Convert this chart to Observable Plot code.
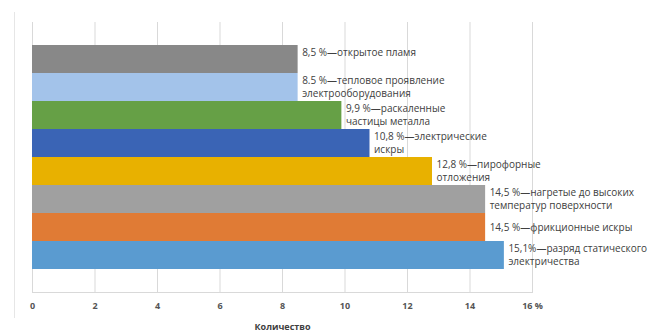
<!DOCTYPE html>
<html>
<head>
<meta charset="utf-8">
<script src="https://cdn.jsdelivr.net/npm/d3@7"></script>
<script src="https://cdn.jsdelivr.net/npm/@observablehq/plot@0.6"></script>
<style>
  html, body { margin: 0; padding: 0; background: #fff; }
  #wrap { position: relative; width: 657px; height: 336px; }
  #edge { position: absolute; left: 14px; top: 12px; width: 0; height: 306px; border-left: 1px solid #e6e6e6; }
</style>
</head>
<body>
<div id="wrap"><div id="edge"></div></div>
<script>
// Источники зажигания, доля случаев, %
const sources = [
  "открытое пламя",
  "тепловое проявление\nэлектрооборудования",
  "раскаленные\nчастицы металла",
  "электрические\nискры",
  "пирофорные\nотложения",
  "нагретые до высоких\nтемператур поверхности",
  "фрикционные искры",
  "разряд статического\nэлектричества"
];
const shares = [8.5, 8.5, 9.9, 10.8, 12.8, 14.5, 14.5, 15.1];
const decimalMarks = [",", ".", ",", ",", ",", ",", ",", ","];
const percentGaps = [" ", " ", " ", " ", " ", " ", " ", ""];
const barColors = ["#888888", "#a3c3ea", "#66a046", "#3a64b5", "#e8b100", "#a0a0a0", "#e07b35", "#5a9bd0"];
const xTicks = [0, 2, 4, 6, 8, 10, 12, 14, 16];
const axisTitle = "Количество";

const rows = sources.map((s, i) => ({
  source: s,
  share: shares[i],
  color: barColors[i],
  label: String(shares[i]).replace(".", decimalMarks[i]) + percentGaps[i] + "%—" + s
    + (s.includes("\n") || i === 6 ? "" : "\n")
}));

const tickText = d => d === 16 ? "16 %" : String(d);

const chart = Plot.plot({
  width: 657,
  height: 336,
  marginLeft: 32,
  marginRight: 125,
  marginTop: 22,
  marginBottom: 44,
  style: { fontFamily: "'Open Sans', Lato, sans-serif", background: "transparent" },
  x: { domain: [0, 16], ticks: xTicks, tickFormat: tickText },
  y: { domain: sources, paddingInner: 0, paddingOuter: 0.757, axis: null },
  marks: [
    Plot.gridX(xTicks, { stroke: "#d9d9d9", strokeOpacity: 1 }),
    Plot.frame({ anchor: "bottom", stroke: "#d9d9d9" }),
    Plot.barX(rows, { x: "share", y: "source", fill: "color", inset: 0 }),
    Plot.text(rows, {
      x: "share", y: "source", text: "label",
      textAnchor: "start", dx: 4, dy: -1, lineHeight: 1.3,
      fontSize: 10, fill: "#404040"
    }),
    Plot.axisX(xTicks, {
      tickSize: 0, tickPadding: 10, fontSize: 9, fontWeight: "bold",
      fill: "#555", label: null, tickFormat: tickText
    }),
    Plot.text([axisTitle], {
      frameAnchor: "bottom", dy: 37, text: d => d,
      fontSize: 9, fontWeight: "bold", fill: "#404040"
    })
  ]
});
document.getElementById("wrap").appendChild(chart);
chart.style.position = "absolute";
chart.style.left = "0";
chart.style.top = "0";
</script>
</body>
</html>
